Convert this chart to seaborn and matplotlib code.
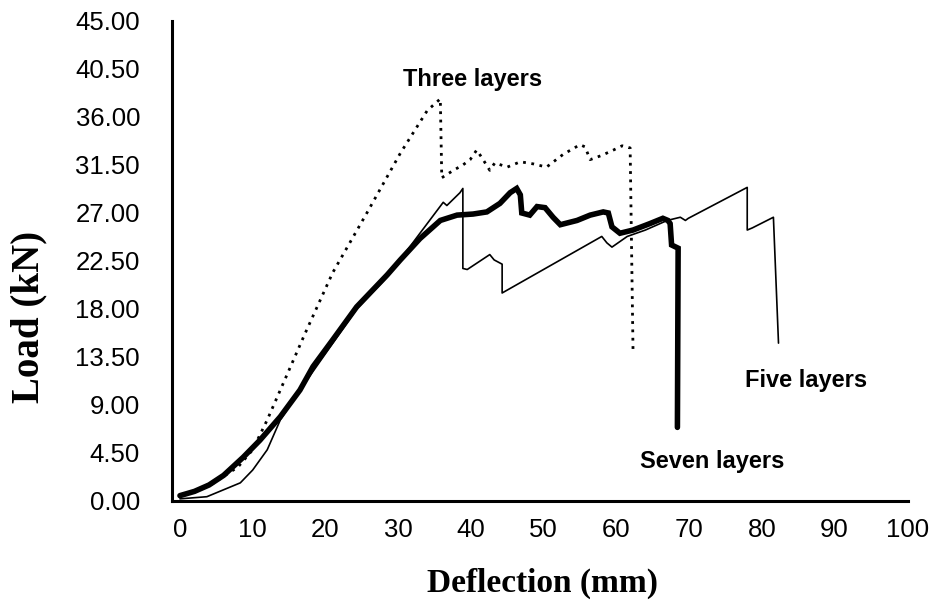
import numpy as np
import pandas as pd
import matplotlib
matplotlib.use("Agg")
import matplotlib.pyplot as plt
import seaborn as sns

# ---------------- data ----------------
three_x = [0, 4, 8, 10, 12, 17.2, 21, 25.7, 30.3, 34, 35.8, 36.0, 37.6, 38.9, 39.9, 40.8, 41.5,
           42.6, 43.3, 45, 46.8, 48.6, 50.4, 52.7, 55, 55.7, 56.4, 58, 59.6, 60.8, 61.9, 62.3]
three_y = [0.5, 1.4, 3.2, 4.8, 7.6, 15.7, 21.4, 27.0, 32.6, 36.6, 37.7, 30.3, 31.0, 31.5, 32.0, 32.9, 32.2,
           31.0, 31.7, 31.3, 31.8, 31.6, 31.3, 32.5, 33.4, 33.2, 32.0, 32.4, 32.9, 33.3, 33.1, 14.0]

five_x = [0, 3.7, 8.3, 10, 12, 13.8, 16.5, 20, 24.3, 28.5, 30.7, 33, 36.2, 36.7, 38.5, 38.9, 38.9,
          39.5, 42.6, 43.2, 44.3, 44.3, 58, 58.7, 59.4, 61.5, 64, 67, 68.8, 69.5, 69.9, 78, 78,
          78.7, 81.6, 82.3]
five_y = [0.2, 0.4, 1.7, 2.9, 4.8, 7.6, 10.4, 13.8, 18.0, 21.0, 23.0, 25.1, 28.0, 27.7, 28.9, 29.3, 21.8,
          21.7, 23.1, 22.6, 22.2, 19.5, 24.8, 24.2, 23.8, 24.8, 25.4, 26.3, 26.6, 26.3, 26.5, 29.4, 25.4,
          25.6, 26.6, 14.8]

seven_x = [0, 2, 4, 6, 8.7, 11, 13.8, 16.5, 18.3, 21, 24.3, 28.5, 30.3, 33, 35.8, 38.1, 40.3, 42.2, 44,
           45.4, 46.3, 46.8, 47.0, 48.1, 49.1, 50.2, 51.3, 52.3, 54.6, 56.4, 58.2, 58.9, 59.4, 60.5,
           62.3, 64.6, 66.4, 67.1, 67.4, 67.6, 68.5, 68.4]
seven_y = [0.5, 0.9, 1.5, 2.4, 4.1, 5.7, 7.9, 10.4, 12.6, 15.1, 18.2, 21.2, 22.6, 24.6, 26.3, 26.8,
           26.9, 27.1, 27.9, 28.9, 29.3, 28.7, 27.0, 26.8, 27.6, 27.5, 26.6, 25.9, 26.3, 26.8, 27.1,
           27.0, 25.7, 25.1, 25.4, 26.0, 26.5, 26.3, 26.0, 24.0, 23.7, 6.9]

y_ticks = [0, 4.5, 9, 13.5, 18, 22.5, 27, 31.5, 36, 40.5, 45]
y_tick_labels = ["0.00", "4.50", "9.00", "13.50", "18.00", "22.50", "27.00",
                 "31.50", "36.00", "40.50", "45.00"]
x_ticks = [0, 10, 20, 30, 40, 50, 60, 70, 80, 90, 100]
x_tick_labels = ["0", "10", "20", "30", "40", "50", "60", "70", "80", "90", "100"]

labels = ["Three layers", "Five layers", "Seven layers"]
label_x = [40.2, 86.1, 73.2]
label_y = [39.5, 11.3, 3.7]

# ---------------- plot ----------------
sns.set_theme(style="white")
plt.rcParams["font.family"] = ["Liberation Sans", "DejaVu Sans"]

fig = plt.figure(figsize=(9.32, 6.03), dpi=100)
ax = fig.add_axes([0.1845, 0.1692, 0.7897, 0.796])

df3 = pd.DataFrame({"x": three_x, "y": three_y})
df5 = pd.DataFrame({"x": five_x, "y": five_y})
df7 = pd.DataFrame({"x": seven_x, "y": seven_y})

sns.lineplot(data=df3, x="x", y="y", sort=False, estimator=None, ax=ax,
             color="black", linewidth=2.0, linestyle=(0, (1, 2)))
sns.lineplot(data=df5, x="x", y="y", sort=False, estimator=None, ax=ax,
             color="black", linewidth=1.2)
sns.lineplot(data=df7, x="x", y="y", sort=False, estimator=None, ax=ax,
             color="black", linewidth=4.0, solid_joinstyle="miter")

ax.set_xlim(-1.1, 100.1)
ax.set_ylim(0, 45)
ax.set_xticks(x_ticks)
ax.set_xticklabels(x_tick_labels)
ax.set_yticks(y_ticks)
ax.set_yticklabels(y_tick_labels)

for s in ["top", "right"]:
    ax.spines[s].set_visible(False)
for s in ["left", "bottom"]:
    ax.spines[s].set_linewidth(2.2)
    ax.spines[s].set_color("black")

ax.tick_params(axis="y", direction="in", length=4, width=1.5, color="black",
               labelsize=18.5, pad=23, labelcolor="black")
ax.tick_params(axis="x", direction="in", length=0, labelsize=18.5, pad=12,
               labelcolor="black")

ax.set_xlabel("Deflection (mm)", fontfamily="Liberation Serif", fontweight="bold",
              fontsize=24, color="black")
ax.set_ylabel("Load (kN)", fontfamily="Liberation Serif", fontweight="bold",
              fontsize=28, color="black")
ax.xaxis.label.set_va("center")
ax.yaxis.label.set_va("center")
ax.xaxis.set_label_coords(0.503, -0.171)
ax.yaxis.set_label_coords(-0.194, 0.383)

for t, lx, ly in zip(labels, label_x, label_y):
    ax.text(lx, ly, t, ha="center", va="center", fontsize=17, fontweight="bold",
            color="black")

ax.grid(False)
fig.savefig("out.png", dpi=100, facecolor="white")
